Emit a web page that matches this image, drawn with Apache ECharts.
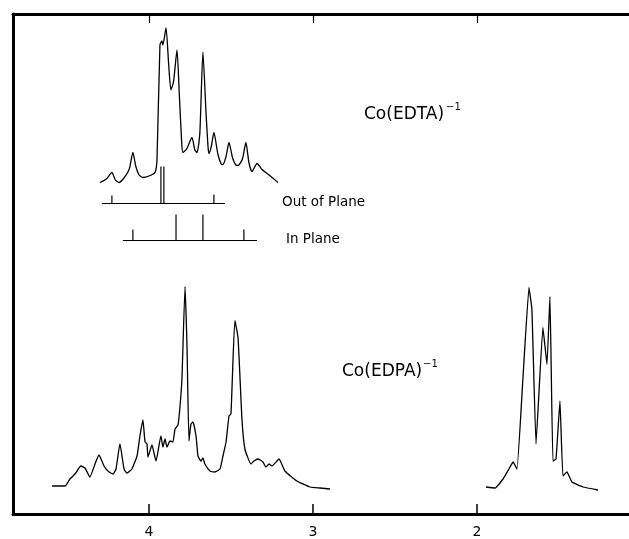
<!DOCTYPE html>
<html>
<head>
<meta charset="utf-8">
<script src="https://cdn.jsdelivr.net/npm/echarts@6/dist/echarts.min.js"></script>
<style>html,body{margin:0;padding:0;background:#fff}#c{width:629px;height:539px}</style>
</head>
<body>
<div id="c"></div>
<script>
// Chemical shift axis (ppm) tick labels
var ppmTicks = [2, 3, 4];

// Co(EDTA)^-1 spectrum: [ppm, intensity]
var edtaSpectrum = [
  [4.299,66.3],[4.260,67.0],[4.226,68.3],[4.205,66.8],[4.183,66.3],[4.150,67.3],[4.120,69.0],[4.098,72.3],
  [4.080,69.5],[4.060,67.8],[4.037,67.3],[4.000,67.6],[3.963,68.3],[3.951,70.9],
  [3.933,93.8],[3.921,94.6],[3.915,93.8],[3.896,97.2],[3.880,90.0],[3.866,84.8],[3.850,86.5],[3.829,92.8],
  [3.815,84.0],[3.800,74.0],[3.793,72.3],[3.770,73.0],
  [3.738,75.3],[3.720,72.8],[3.707,72.3],[3.690,76.0],[3.671,92.4],[3.652,80.2],[3.640,73.5],[3.634,72.1],
  [3.620,73.5],[3.604,76.3],[3.580,72.0],[3.560,70.0],[3.549,69.9],[3.530,71.5],
  [3.512,74.3],[3.490,71.2],[3.470,69.8],[3.457,69.7],[3.430,71.0],[3.409,74.3],[3.390,70.2],[3.372,68.5],
  [3.341,70.1],[3.311,68.9],[3.260,67.6],[3.213,66.3]
];

// Stick spectra (predicted lines): baseline range, positions and heights
var outOfPlaneRange = [4.287, 3.537];
var outOfPlaneBase = 62.1;
var outOfPlanePos = [4.226, 3.927, 3.909, 3.604];
var outOfPlaneTop = [63.7, 69.5, 69.5, 63.9];

var inPlaneRange = [4.159, 3.341];
var inPlaneBase = 54.7;
var inPlanePos = [4.098, 3.835, 3.671, 3.421];
var inPlaneTop = [56.9, 59.9, 59.9, 56.9];

// Co(EDPA)^-1 spectrum, acetate region: [ppm, intensity]
var edpaAcetate = [
  [4.591,5.6],[4.512,5.6],[4.482,7.0],[4.451,8.0],[4.415,9.6],[4.390,9.2],[4.360,7.4],[4.329,10.0],
  [4.305,11.8],[4.274,9.6],[4.250,8.6],[4.220,8.0],[4.201,9.0],[4.177,14.0],[4.152,9.0],[4.134,8.2],
  [4.104,9.0],[4.073,11.6],[4.055,15.6],[4.037,18.8],[4.024,14.4],[4.012,14.0],[4.006,11.4],[3.982,13.8],
  [3.957,10.6],[3.927,15.6],[3.915,13.4],[3.902,15.0],[3.890,13.4],[3.872,14.6],[3.854,14.4],[3.841,17.0],
  [3.823,17.8],[3.811,21.4],[3.799,27.0],[3.780,45.5],[3.768,33.5],[3.756,14.6],[3.744,18.0],[3.732,18.4],
  [3.713,15.6],[3.701,11.6],[3.683,10.6],[3.671,11.2],[3.659,10.0],[3.628,8.6],[3.598,8.4],[3.567,9.0],
  [3.549,11.6],[3.530,14.4],[3.512,19.6],[3.500,20.0],[3.476,38.7],[3.457,35.3],[3.433,19.0],[3.415,13.0],
  [3.378,10.0],[3.360,10.6],[3.335,11.0],[3.305,10.4],[3.287,9.4],[3.268,10.0],[3.250,9.6],[3.207,11.0],
  [3.171,8.6],[3.098,6.6],[3.018,5.4],[2.957,5.2],[2.896,5.0]
];

// Co(EDPA)^-1 spectrum, propionate region: [ppm, intensity]
var edpaPropionate = [
  [1.945,5.4],[1.890,5.2],[1.841,7.0],[1.805,9.0],[1.780,10.4],[1.756,9.0],[1.720,27.0],[1.683,45.3],
  [1.665,40.9],[1.640,14.0],[1.598,37.3],[1.573,29.9],[1.555,43.5],[1.537,10.6],[1.518,11.0],[1.494,22.6],
  [1.476,7.6],[1.451,8.4],[1.421,6.4],[1.354,5.4],[1.262,4.8]
];

function stickPath(range, base, pos, top) {
  var pts = [[range[0], base]];
  for (var i = 0; i < pos.length; i++) {
    pts.push([pos[i], base], [pos[i], top[i]], [pos[i], base]);
  }
  pts.push([range[1], base]);
  return pts;
}

var chart = echarts.init(document.getElementById('c'));
function spec(data, w, sm) {
  return { type: 'line', data: data, showSymbol: false, symbol: 'none', smooth: sm || false,
    lineStyle: { color: '#000', width: w || 1.3 }, silent: true, z: 3 };
}
var fontFam = '"DejaVu Sans", sans-serif';
chart.setOption({
  animation: false,
  backgroundColor: '#fff',
  grid: { left: 13, right: 0, top: 14, bottom: 24, containLabel: false },
  xAxis: [{
    type: 'value', inverse: true, min: 1.073, max: 4.829, position: 'bottom',
    splitLine: { show: false },
    axisLine: { show: true, onZero: false, lineStyle: { color: '#000', width: 3 } },
    axisTick: { show: true, inside: true, length: 10, customValues: ppmTicks, lineStyle: { color: '#000', width: 1.5 } },
    axisLabel: { show: true, customValues: ppmTicks, color: '#000', fontSize: 14, fontFamily: fontFam, margin: 11 }
  }, {
    type: 'value', inverse: true, min: 1.073, max: 4.829, position: 'top',
    splitLine: { show: false },
    axisLine: { show: true, onZero: false, lineStyle: { color: '#000', width: 3 } },
    axisTick: { show: true, inside: true, length: 9, customValues: ppmTicks, lineStyle: { color: '#000', width: 1.2 } },
    axisLabel: { show: false }
  }],
  yAxis: {
    type: 'value', min: 0, max: 100,
    splitLine: { show: false },
    axisLine: { show: true, onZero: false, lineStyle: { color: '#000', width: 3 } },
    axisTick: { show: false }, axisLabel: { show: false }
  },
  series: [
    spec(edtaSpectrum, 1.3, 0.2),
    spec(stickPath(outOfPlaneRange, outOfPlaneBase, outOfPlanePos, outOfPlaneTop), 1.2),
    spec(stickPath(inPlaneRange, inPlaneBase, inPlanePos, inPlaneTop), 1.2),
    spec(edpaAcetate, 1.3, 0.15),
    spec(edpaPropionate, 1.3, 0.1)
  ],
  graphic: [
    { type: 'text', left: 364, top: 106, style: { text: 'Co(EDTA)', font: '17px ' + fontFam, fill: '#000' } },
    { type: 'text', left: 446, top: 102, style: { text: '−1', font: '10px ' + fontFam, fill: '#000' } },
    { type: 'text', left: 342, top: 363, style: { text: 'Co(EDPA)', font: '17px ' + fontFam, fill: '#000' } },
    { type: 'text', left: 423, top: 359, style: { text: '−1', font: '10px ' + fontFam, fill: '#000' } },
    { type: 'text', left: 282, top: 195, style: { text: 'Out of Plane', font: '13.5px ' + fontFam, fill: '#000' } },
    { type: 'text', left: 286, top: 232, style: { text: 'In Plane', font: '13.5px ' + fontFam, fill: '#000' } }
  ]
});
</script>
</body>
</html>
